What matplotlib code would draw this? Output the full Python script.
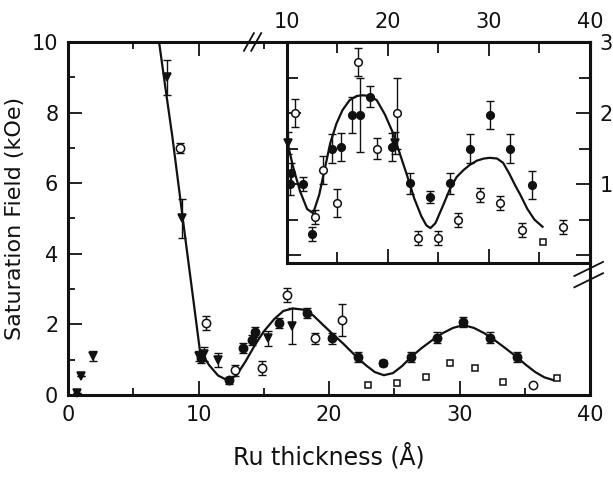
import matplotlib

matplotlib.use("Agg")
import matplotlib.pyplot as plt
from matplotlib.lines import Line2D
from matplotlib.ticker import MultipleLocator

# ---- main panel data (kOe vs Ru thickness, Angstrom) ----
main_fit_x = [6.9, 7.5, 8.0, 8.5, 9.0, 9.6, 10.1, 10.8, 11.5, 12.2, 12.9, 13.6, 14.3,
              15.0, 15.8, 16.5, 17.2, 18.0, 18.8, 19.5, 20.3, 21.1, 22.0, 22.8, 23.5,
              24.2, 24.9, 25.6, 26.3, 27.1, 27.9, 28.7, 29.5, 30.3, 31.1, 31.9, 32.7,
              33.5, 34.3, 35.1, 35.8, 36.5, 37.2]
main_fit_y = [10.2, 8.6, 7.3, 5.85, 4.4, 2.7, 1.27, 0.85, 0.55, 0.42, 0.55, 0.95, 1.4,
              1.8, 2.15, 2.38, 2.45, 2.42, 2.25, 2.0, 1.72, 1.45, 1.12, 0.85, 0.65,
              0.56, 0.62, 0.82, 1.08, 1.33, 1.55, 1.75, 1.9, 1.98, 1.9, 1.75, 1.55,
              1.33, 1.1, 0.85, 0.65, 0.5, 0.42]

main_tri_x = [0.7, 1.0, 1.9, 7.6, 8.7, 10.0, 10.4, 11.5, 15.3, 17.2]
main_tri_y = [0.05, 0.55, 1.1, 9.0, 5.0, 1.1, 1.15, 1.0, 1.6, 1.95]
main_tri_err = [0.0, 0.0, 0.15, 0.5, 0.55, 0.15, 0.2, 0.2, 0.2, 0.5]

main_dot_x = [10.2, 12.3, 13.4, 14.1, 14.3, 16.2, 18.3, 20.2, 22.2, 24.1, 26.3, 28.3,
              30.3, 32.3, 34.4]
main_dot_y = [1.05, 0.42, 1.33, 1.56, 1.78, 2.04, 2.32, 1.6, 1.08, 0.9, 1.08, 1.62,
              2.07, 1.62, 1.08]
main_dot_err = [0.15, 0.1, 0.15, 0.15, 0.15, 0.15, 0.15, 0.15, 0.15, 0.08, 0.15, 0.15,
                0.15, 0.15, 0.15]

main_open_x = [8.6, 10.6, 12.8, 14.9, 16.8, 18.9, 21.0, 35.6]
main_open_y = [7.0, 2.04, 0.7, 0.76, 2.83, 1.6, 2.12, 0.28]
main_open_err = [0.15, 0.2, 0.15, 0.2, 0.2, 0.15, 0.45, 0.0]

main_sq_x = [23.0, 25.2, 27.4, 29.3, 31.2, 33.3, 37.5]
main_sq_y = [0.28, 0.33, 0.51, 0.9, 0.76, 0.37, 0.48]

# ---- inset data ----
ins_fit_x = [10.0, 10.6, 11.3, 12.0, 12.6, 13.2, 13.8, 14.3, 14.9, 15.5, 16.2, 16.9,
             17.5, 18.2, 18.9, 19.7, 20.5, 21.2, 21.9, 22.6, 23.3, 23.8, 24.2, 24.7,
             25.4, 26.1, 26.8, 27.5, 28.1, 28.8, 29.5, 30.1, 30.8, 31.4, 32.0, 32.6,
             33.1, 33.8, 34.5, 35.3]
ins_fit_y = [1.62, 1.25, 0.9, 0.65, 0.59, 0.85, 1.25, 1.58, 1.85, 2.04, 2.18, 2.24,
             2.25, 2.24, 2.18, 1.98, 1.72, 1.42, 1.12, 0.8, 0.55, 0.42, 0.38, 0.45,
             0.68, 0.92, 1.1, 1.2, 1.27, 1.33, 1.36, 1.37, 1.36, 1.3, 1.15, 0.98,
             0.85, 0.65, 0.5, 0.4]

ins_dot_x = [10.4, 10.3, 11.6, 12.5, 14.5, 15.4, 16.4, 17.2, 18.2, 20.4, 22.2, 24.2,
             26.1, 28.1, 30.1, 32.1, 34.3]
ins_dot_y = [1.15, 1.0, 1.0, 0.3, 1.5, 1.52, 1.97, 1.97, 2.23, 1.52, 1.01, 0.82,
             1.01, 1.5, 1.97, 1.5, 0.99]
ins_dot_err = [0.15, 0.15, 0.1, 0.1, 0.2, 0.2, 0.25, 0.52, 0.15, 0.2, 0.15, 0.08,
               0.15, 0.2, 0.2, 0.2, 0.2]

ins_tri_x = [10.1, 20.7]
ins_tri_y = [1.58, 1.58]
ins_tri_err = [0.15, 0.15]

ins_open_x = [10.8, 12.8, 13.6, 15.0, 17.0, 18.9, 20.9, 23.0, 25.0, 26.9, 29.1, 31.1,
              33.3, 37.3]
ins_open_y = [2.0, 0.54, 1.2, 0.73, 2.72, 1.5, 2.0, 0.24, 0.24, 0.49, 0.85, 0.73,
              0.35, 0.4]
ins_open_err = [0.2, 0.1, 0.2, 0.2, 0.2, 0.15, 0.5, 0.1, 0.1, 0.1, 0.1, 0.1, 0.1, 0.1]

ins_sq_x = [35.3]
ins_sq_y = [0.18]

INK = "#111111"
plt.rcParams["font.family"] = ["DejaVu Sans"]


def draw_series(ax, fit_x, fit_y, tri, dot, opn, sq, ms):
    ax.plot(fit_x, fit_y, color=INK, lw=1.6, zorder=2)
    eb = dict(fmt="none", ecolor=INK, elinewidth=1.0, capsize=3, capthick=1.0, zorder=3)
    for (x, y, e), mk, fc in [(tri, "v", INK), (dot, "o", INK), (opn, "o", "white")]:
        ax.errorbar(x, y, yerr=e, **eb)
        ax.plot(x, y, ls="none", marker=mk, ms=ms, mfc=fc, mec=INK, mew=1.1, zorder=4,
                clip_on=False)
    ax.plot(sq[0], sq[1], ls="none", marker="s", ms=ms - 1, mfc="white", mec=INK,
            mew=1.1, zorder=4)


fig = plt.figure(figsize=(6.13, 4.79), dpi=100)

# main axes
ax = fig.add_axes([0.111, 0.1754, 0.8515, 0.737])
draw_series(ax, main_fit_x, main_fit_y,
            (main_tri_x, main_tri_y, main_tri_err),
            (main_dot_x, main_dot_y, main_dot_err),
            (main_open_x, main_open_y, main_open_err),
            (main_sq_x, main_sq_y), ms=6)
ax.set_xlim(0, 40)
ax.set_ylim(0, 10)
ax.xaxis.set_major_locator(MultipleLocator(10))
ax.xaxis.set_minor_locator(MultipleLocator(5))
ax.yaxis.set_major_locator(MultipleLocator(2))
ax.yaxis.set_minor_locator(MultipleLocator(1))
ax.tick_params(which="both", direction="in", top=True, right=False, width=1.3,
               labelsize=15, colors=INK, pad=7)
ax.tick_params(which="major", length=10)
ax.tick_params(which="minor", length=5)
for s in ax.spines.values():
    s.set_linewidth(2.2)
    s.set_color(INK)
ax.set_xlabel("Ru thickness (Å)", fontsize=17, color=INK, labelpad=13)
ax.set_ylabel("Saturation Field (kOe)", fontsize=16, color=INK, labelpad=5)

# break marks on the main frame
for dx in (-0.006, 0.008):
    ax.add_line(Line2D([0.343 + dx, 0.362 + dx], [0.975, 1.025], color=INK, lw=1.3,
                       transform=ax.transAxes, clip_on=False, zorder=6))
for dy in (0.0, 0.032):
    ax.add_line(Line2D([0.97, 1.025], [0.305 + dy, 0.345 + dy], color=INK, lw=1.3,
                       transform=ax.transAxes, clip_on=False, zorder=6))

# inset
ins = fig.add_axes([0.468, 0.451, 0.4945, 0.4613])
ins.set_facecolor("white")
draw_series(ins, ins_fit_x, ins_fit_y,
            (ins_tri_x, ins_tri_y, ins_tri_err),
            (ins_dot_x, ins_dot_y, ins_dot_err),
            (ins_open_x, ins_open_y, ins_open_err),
            (ins_sq_x, ins_sq_y), ms=5.5)
ins.set_xlim(10, 40)
ins.set_ylim(-0.11, 3.0)
ins.xaxis.set_major_locator(MultipleLocator(10))
ins.xaxis.set_minor_locator(MultipleLocator(5))
ins.yaxis.set_major_locator(MultipleLocator(1))
ins.yaxis.set_minor_locator(MultipleLocator(0.5))
ins.tick_params(which="both", direction="in", top=True, bottom=True, left=True,
                right=True, labeltop=True, labelbottom=False, labelleft=False,
                labelright=True, width=1.3, labelsize=15, colors=INK, pad=7)
ins.tick_params(which="major", length=10)
ins.tick_params(which="minor", length=8)
ins.set_yticks([0, 1, 2, 3])
ins.set_yticklabels(["", "1", "2", "3"])
for s in ins.spines.values():
    s.set_linewidth(2.2)
    s.set_color(INK)

fig.savefig("out.png", dpi=100, facecolor="white")
